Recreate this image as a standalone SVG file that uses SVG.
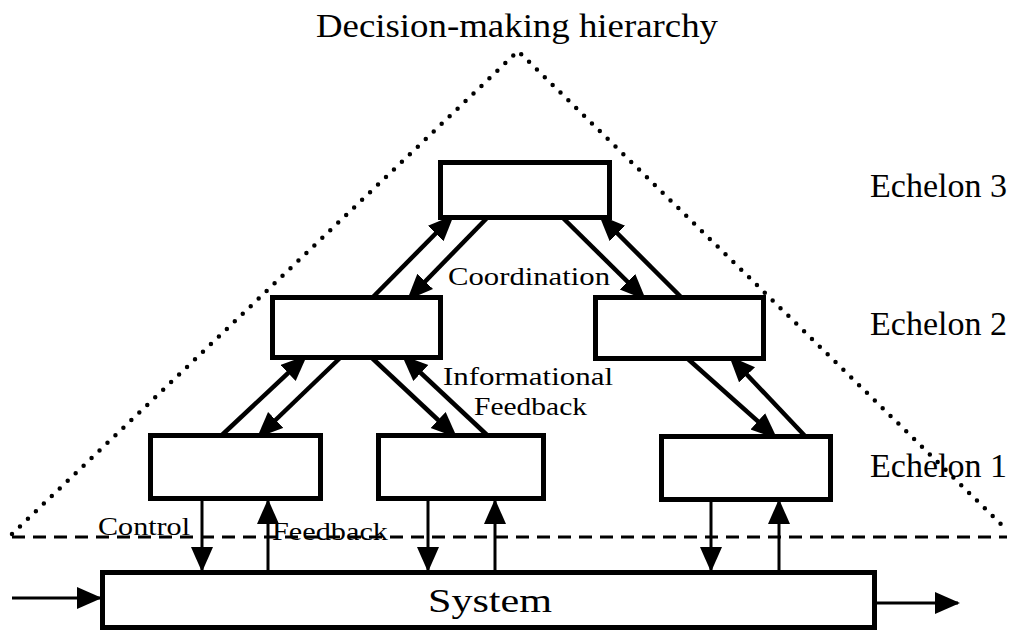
<svg xmlns="http://www.w3.org/2000/svg" width="1015" height="632" viewBox="0 0 1015 632">
  <style>
    .box { fill: #fff; stroke: #000; stroke-width: 5; }
    .lbl { font-family: "Liberation Serif", "Times New Roman", serif; fill: #000; }
    .diag { stroke: #000; stroke-width: 4.5; fill: none; marker-end: url(#headL); }
    .vert { stroke: #000; stroke-width: 3; fill: none; marker-end: url(#headS); }
    .io { stroke: #000; stroke-width: 3; fill: none; marker-end: url(#headS); }
  </style>
  <defs>
    <marker id="headL" markerUnits="userSpaceOnUse" markerWidth="28" markerHeight="24" refX="19" refY="11" orient="auto">
      <path d="M0,0 L26,11 L0,22 z" fill="#000"/>
    </marker>
    <marker id="headS" markerUnits="userSpaceOnUse" markerWidth="28" markerHeight="24" refX="23" refY="11" orient="auto">
      <path d="M0,0 L25,11 L0,22 z" fill="#000"/>
    </marker>
  </defs>

  <rect width="1015" height="632" fill="#fff"/>

  <!-- hierarchy outline and system boundary -->
  <g id="frame">
    <polyline points="12,534 518,51 1008,531" fill="none" stroke="#000" stroke-width="4.5" stroke-linecap="round" stroke-dasharray="0 11"/>
    <line x1="12" y1="537" x2="1007" y2="537" stroke="#000" stroke-width="3" stroke-dasharray="13 8"/>
  </g>

  <g id="connectors">
    <!-- echelon 2 <-> echelon 3 -->
    <line class="diag" x1="373" y1="297" x2="449" y2="220"/>
    <line class="diag" x1="487" y1="218" x2="412" y2="295"/>
    <line class="diag" x1="563" y1="218" x2="641" y2="295"/>
    <line class="diag" x1="681" y1="297" x2="604" y2="220"/>
    <!-- echelon 1 <-> echelon 2 -->
    <line class="diag" x1="222" y1="435" x2="302" y2="360"/>
    <line class="diag" x1="340" y1="358" x2="262" y2="433"/>
    <line class="diag" x1="372" y1="358" x2="452" y2="433"/>
    <line class="diag" x1="487" y1="435" x2="407" y2="360"/>
    <line class="diag" x1="688" y1="359" x2="772" y2="434"/>
    <line class="diag" x1="805" y1="436" x2="734" y2="361"/>
    <!-- control / feedback to the system -->
    <line class="vert" x1="202" y1="501" x2="202" y2="570"/>
    <line class="vert" x1="268" y1="570" x2="268" y2="501"/>
    <line class="vert" x1="428" y1="501" x2="428" y2="570"/>
    <line class="vert" x1="495" y1="570" x2="495" y2="501"/>
    <line class="vert" x1="711" y1="501" x2="711" y2="570"/>
    <line class="vert" x1="779" y1="570" x2="779" y2="501"/>
    <!-- system input / output -->
    <line class="io" x1="12" y1="598" x2="100" y2="598"/>
    <line class="io" x1="877" y1="603" x2="958" y2="603"/>
  </g>

  <g id="echelon3">
    <rect class="box" x="440.5" y="162.5" width="169" height="55"/>
  </g>
  <g id="echelon2-left">
    <rect class="box" x="272.5" y="297.5" width="168" height="60"/>
  </g>
  <g id="echelon2-right">
    <rect class="box" x="595.5" y="297.5" width="168" height="61"/>
  </g>
  <g id="echelon1-a">
    <rect class="box" x="150.5" y="435.5" width="170" height="63"/>
  </g>
  <g id="echelon1-b">
    <rect class="box" x="378.5" y="435.5" width="165" height="63"/>
  </g>
  <g id="echelon1-c">
    <rect class="box" x="661.5" y="436.5" width="169" height="63"/>
  </g>
  <g id="system">
    <rect class="box" x="102.5" y="572.5" width="772" height="55"/>
    <text class="lbl" x="428" y="612" font-size="33" textLength="124" lengthAdjust="spacingAndGlyphs">System</text>
  </g>

  <g id="labels">
    <text class="lbl" x="316" y="37" font-size="33" textLength="402" lengthAdjust="spacingAndGlyphs">Decision-making hierarchy</text>
    <text class="lbl" x="448" y="285" font-size="26" textLength="162" lengthAdjust="spacingAndGlyphs">Coordination</text>
    <text class="lbl" x="443" y="385" font-size="26" textLength="170" lengthAdjust="spacingAndGlyphs">Informational</text>
    <text class="lbl" x="474" y="415" font-size="26" textLength="113" lengthAdjust="spacingAndGlyphs">Feedback</text>
    <text class="lbl" x="870" y="197" font-size="33" textLength="137" lengthAdjust="spacingAndGlyphs">Echelon 3</text>
    <text class="lbl" x="870" y="335" font-size="33" textLength="137" lengthAdjust="spacingAndGlyphs">Echelon 2</text>
    <text class="lbl" x="870" y="477" font-size="33" textLength="137" lengthAdjust="spacingAndGlyphs">Echelon 1</text>
    <text class="lbl" x="98" y="535" font-size="26" textLength="92" lengthAdjust="spacingAndGlyphs">Control</text>
    <text class="lbl" x="272" y="540" font-size="26" textLength="116" lengthAdjust="spacingAndGlyphs">Feedback</text>
  </g>
</svg>
